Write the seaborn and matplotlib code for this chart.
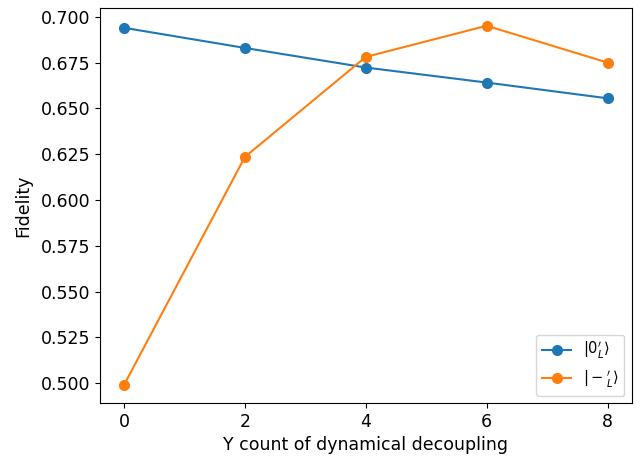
import matplotlib

matplotlib.use("Agg")
import matplotlib.pyplot as plt
import pandas as pd
import seaborn as sns

y_count = [0, 2, 4, 6, 8]
fid_zero = [0.6940, 0.6830, 0.6723, 0.6641, 0.6555]
fid_minus = [0.4990, 0.6235, 0.6781, 0.6951, 0.6750]
labels = [r"$|0_L'\rangle$", r"$|-_L'\rangle$"]

plt.rcParams["font.size"] = 12.5

df = pd.concat(
    [
        pd.DataFrame({"y": y_count, "fid": fid_zero, "state": labels[0]}),
        pd.DataFrame({"y": y_count, "fid": fid_minus, "state": labels[1]}),
    ]
)

fig, ax = plt.subplots(figsize=(6.44, 4.59), dpi=100)
sns.lineplot(data=df, x="y", y="fid", hue="state", marker="o", markersize=8,
             markeredgewidth=0, palette=["#1f77b4", "#ff7f0e"], ax=ax)
ax.set_xlabel("Y count of dynamical decoupling")
ax.set_ylabel("Fidelity", labelpad=6)
ax.set_xticks([0, 2, 4, 6, 8])
ax.set_yticks([0.500, 0.525, 0.550, 0.575, 0.600, 0.625, 0.650, 0.675, 0.700])
ax.set_yticklabels([f"{v:.3f}" for v in ax.get_yticks()])
ax.legend(loc="lower right", title=None, fontsize=10.5)
fig.subplots_adjust(left=0.155, right=0.981, top=0.983, bottom=0.122)
plt.savefig("out.png", dpi=100)
